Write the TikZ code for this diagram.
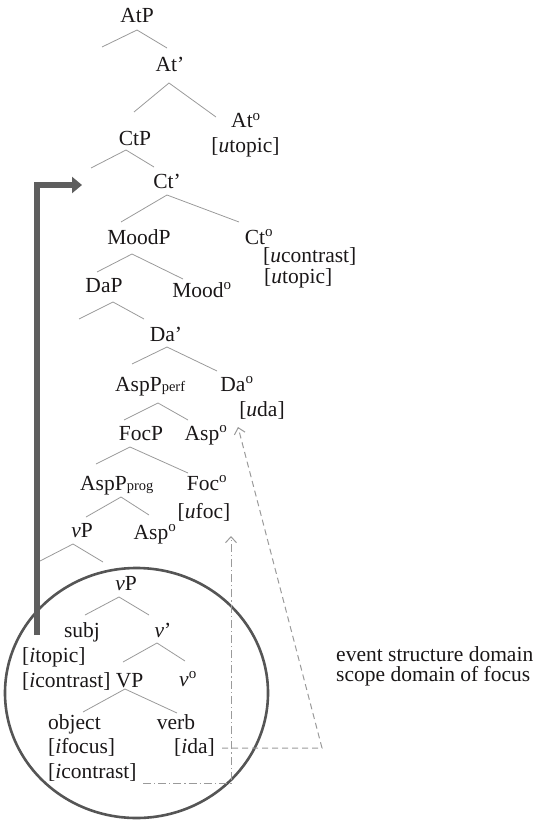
\documentclass[tikz,border=0pt]{standalone}
\usepackage{fontspec}
\setmainfont{Liberation Serif}
\usetikzlibrary{arrows.meta}
\definecolor{ink}{HTML}{1A1718}
\definecolor{edgegray}{HTML}{9A9A9A}
\definecolor{ringgray}{HTML}{555555}
\definecolor{bargray}{HTML}{5E5E5E}
\newcommand\treebranch[3]{\draw[branchline] #2 -- #1 -- #3;}
\newcommand\hd{\textsuperscript{o}}
\newcommand\lowsub[1]{{\fontsize{14.5}{14.5}\selectfont #1}}
\begin{document}
\begin{tikzpicture}[x=1pt,y=-1pt,
  lbl/.style={inner sep=0pt,anchor=base,text=ink,font=\fontsize{21.5}{21.5}\selectfont},
  lblw/.style={lbl,anchor=base west},
  lble/.style={lbl,anchor=base east},
  branchline/.style={draw=edgegray,line width=0.8pt},
  dashline/.style={draw=edgegray,line width=1pt,dash pattern=on 6pt off 4pt,
    -{Straight Barb[length=6pt,width=11pt,line width=1pt]}},
  dotdashline/.style={draw=edgegray,line width=1pt,dash pattern=on 8pt off 3pt on 1.2pt off 3pt,
    -{Straight Barb[length=6pt,width=11pt,line width=1pt]}},
  movebar/.style={draw=bargray,line width=6pt,-{Triangle[length=10pt,width=16pt]}},
  ring/.style={draw=ringgray,line width=2.6pt}]
\useasboundingbox (0,0) rectangle (534,821);

% circled lower domain
\draw[ring] (136.5,693) ellipse [x radius=131.5, y radius=125];

% labels of the tree
\node[lbl] (AtP) at (137,23) {AtP};
\node[lbl] (Atbar) at (170,72) {At’};
\node[lbl] (Athd) at (246,128) {At\hd};
\node[lbl] (Atft) at (245.5,153) {[\textit{u}topic]};
\node[lbl] (CtP) at (135,146) {CtP};
\node[lbl] (Ctbar) at (167,189) {Ct’};
\node[lbl] (MoodP) at (139,244) {MoodP};
\node[lbl] (Cthd) at (259,244) {Ct\hd};
\node[lblw] (Ctfa) at (263,262) {[\textit{u}contrast]};
\node[lblw] (Ctfb) at (264,283) {[\textit{u}topic]};
\node[lbl] (DaP) at (104,292) {DaP};
\node[lbl] (Moodhd) at (202,297) {Mood\hd};
\node[lbl] (Dabar) at (166,341) {Da’};
\node[lblw] (AspPperf) at (115,391) {AspP\lowsub{perf}};
\node[lbl] (Dahd) at (237,391) {Da\hd};
\node[lbl] (uda) at (262,416) {[\textit{u}da]};
\node[lbl] (FocP) at (141,440) {FocP};
\node[lbl] (Asphda) at (206,440) {Asp\hd};
\node[lblw] (AspPprog) at (80,490) {AspP\lowsub{prog}};
\node[lbl] (Fochd) at (207,490) {Foc\hd};
\node[lbl] (ufoc) at (204,518) {[\textit{u}foc]};
\node[lbl] (vPa) at (82,537) {\textit{v}P};
\node[lbl] (Asphdb) at (155,539) {Asp\hd};
\node[lbl] (vPb) at (126,590) {\textit{v}P};
\node[lbl] (subj) at (82,637) {subj};
\node[lbl] (vbar) at (163,637) {\textit{v}’};
\node[lblw] (itopic) at (22,662) {[\textit{i}topic]};
\node[lblw] (icontr) at (22,687) {[\textit{i}contrast] VP};
\node[lbl] (vhd) at (188,686) {\textit{v}\hd};
\node[lblw] (object) at (48,729) {object};
\node[lbl] (verb) at (176,729) {verb};
\node[lblw] (ifocus) at (48,753) {[\textit{i}focus]};
\node[lble] (ida) at (215,753) {[\textit{i}da]};
\node[lblw] (icontrb) at (48,778) {[\textit{i}contrast]};
\node[lblw] (evt) at (336,661) {event structure domain};
\node[lblw] (scp) at (336,681) {scope domain of focus};

% branches: apex, left end, right end
\treebranch{(137,30)}{(102,47)}{(167,48)}
\treebranch{(169,83)}{(134,112)}{(216,117)}
\treebranch{(126,150)}{(91,168)}{(154,167)}
\treebranch{(167,195)}{(121,222)}{(239,222)}
\treebranch{(132,254)}{(97,272)}{(183,279)}
\treebranch{(113,302)}{(79,319)}{(144,319)}
\treebranch{(167,347)}{(132,364)}{(217,371)}
\treebranch{(158,403)}{(124,420)}{(188,420)}
\treebranch{(130,447)}{(96,464)}{(188,473)}
\treebranch{(121,497)}{(86,517)}{(149,515)}
\treebranch{(73,544)}{(40,561)}{(103,562)}
\treebranch{(119,597)}{(85,615)}{(149,615)}
\treebranch{(157,643)}{(123,662)}{(185,661)}
\treebranch{(125,689)}{(83,712)}{(177,713)}

% agreement paths
\coordinate (daStart) at (222,748);
\coordinate (daCorner) at (322,748);
\coordinate (daTip) at (238,427);
\draw[dashline] (daStart) -- (daCorner) -- (daTip);
\coordinate (focStart) at (143,783);
\coordinate (focCorner) at (231,783);
\coordinate (focTip) at (231,536);
\draw[dotdashline] (focStart) -- (focCorner) -- (focTip);

% movement of the topic to CtP
\coordinate (mvFoot) at (37,635);
\coordinate (mvCorner) at (37,185);
\coordinate (mvTip) at (82,185);
\draw[movebar] (mvFoot) -- (mvCorner) -- (mvTip);
\end{tikzpicture}
\end{document}
